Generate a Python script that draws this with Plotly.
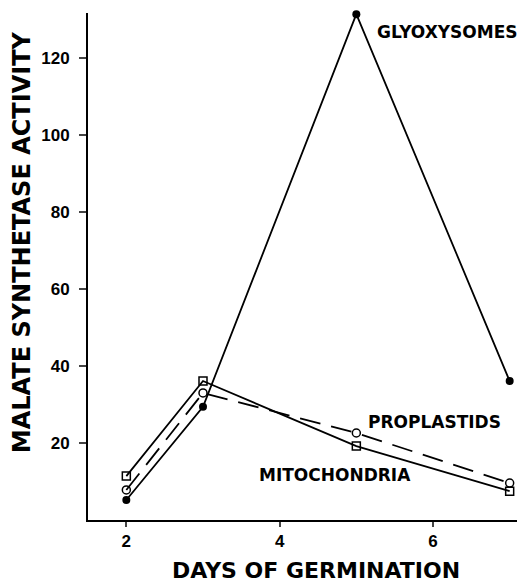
import plotly.graph_objects as go

days = [2, 3, 5, 7]
glyoxysomes = [5.2, 29.4, 131.4, 36.1]
mitochondria = [11.4, 36.1, 19.2, 7.5]
proplastids = [7.8, 33.0, 22.6, 9.6]

x_ticks = [2, 4, 6]
y_ticks = [20, 40, 60, 80, 100, 120]

FONT = "DejaVu Sans"
TICKFONT = "Liberation Sans"

fig = go.Figure()
fig.add_trace(go.Scatter(x=days, y=mitochondria, mode="lines+markers",
                         line=dict(color="black", width=1.8),
                         marker=dict(symbol="square-open", size=8, color="black", line=dict(width=1.5)),
                         cliponaxis=False))
fig.add_trace(go.Scatter(x=days, y=proplastids, mode="lines+markers",
                         line=dict(color="black", width=1.8, dash="21px,11px"),
                         marker=dict(symbol="circle-open", size=8, color="black", line=dict(width=1.5)),
                         cliponaxis=False))
fig.add_trace(go.Scatter(x=days, y=glyoxysomes, mode="lines+markers",
                         line=dict(color="black", width=1.8),
                         marker=dict(symbol="circle", size=8, color="black"),
                         cliponaxis=False))

fig.update_layout(
    width=517, height=574,
    margin=dict(l=80, r=0, t=5, b=62),
    paper_bgcolor="white", plot_bgcolor="white",
    showlegend=False,
    font=dict(family=FONT, color="black", size=16, weight="bold"),
    xaxis=dict(range=[1.5, 7.2], tickvals=x_ticks, ticks="outside", ticklen=5, tickwidth=2,
               showline=True, linecolor="black", linewidth=2, showgrid=False, zeroline=False,
               automargin=False, tickfont=dict(family=TICKFONT, size=17, weight="bold")),
    yaxis=dict(range=[0, 131.7], tickvals=y_ticks, ticks="outside", ticklen=7, tickwidth=2,
               showline=True, linecolor="black", linewidth=2, showgrid=False, zeroline=False,
               automargin=False, tickfont=dict(family=TICKFONT, size=17, weight="bold"),
               ticklabelstandoff=6),
    annotations=[
        dict(text="MALATE SYNTHETASE ACTIVITY", xref="paper", yref="paper", x=0, y=0.548,
             xanchor="center", yanchor="middle", xshift=-66, textangle=-90, showarrow=False,
             font=dict(size=24, weight="bold")),
        dict(text="DAYS OF GERMINATION", xref="paper", yref="paper", x=0.522, y=0,
             xanchor="center", yanchor="middle", yshift=-50, showarrow=False,
             font=dict(size=22, weight="bold")),
        dict(text="GLYOXYSOMES", x=5.24, y=126.8, xanchor="left", yanchor="middle",
             showarrow=False, font=dict(size=17, weight="bold")),
        dict(text="PROPLASTIDS", x=5.13, y=25.5, xanchor="left", yanchor="middle",
             showarrow=False, font=dict(size=17, weight="bold")),
        dict(text="MITOCHONDRIA", x=3.71, y=11.7, xanchor="left", yanchor="middle",
             showarrow=False, font=dict(size=17, weight="bold")),
    ],
)

fig.write_html("out.html")
